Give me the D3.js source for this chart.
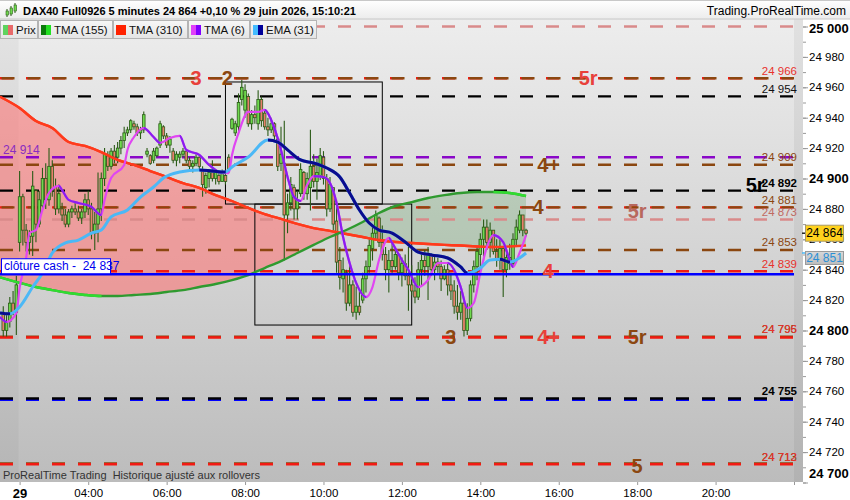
<!DOCTYPE html>
<html><head><meta charset="utf-8">
<script src="https://cdn.jsdelivr.net/npm/d3@7"></script>
<style>
body{margin:0;background:#fff;}
svg{display:block;font-family:"Liberation Sans",Arial,sans-serif;}
</style>
</head><body>
<svg id="c" width="850" height="500"></svg>
<script>
// ---------------- DATA ----------------
const titleText = "DAX40 Full0926 5 minutes 24 864 +0,10 % 29 juin 2026, 15:10:21";
const siteText = "Trading.ProRealTime.com";
const footText = "ProRealTime Trading\u00a0 Historique ajusté aux rollovers";
const legendNames = ["Prix", "TMA (155)", "TMA (310)", "TMA (6)", "EMA (31)"];

const barStart = 1 + 50/60;   // first bar 01:50
const barMinutes = 5;
const open  = [24812,24800,24806,24818,24812,24858,24888,24866,24858,24862,24892,24870,24882,24900,24886,24908,24894,24880,24880,24876,24870,24878,24880,24878,24874,24878,24886,24880,24864,24870,24880,24900,24915,24908,24918,24914,24920,24925,24930,24932,24936,24934,24930,24932,24916,24915,24912,24915,24922,24934,24928,24922,24918,24912,24914,24916,24918,24912,24908,24910,24914,24906,24894,24900,24904,24900,24902,24898,24902,24914,24933,24930,24934,24952,24945,24954,24936,24942,24936,24952,24943,24934,24932,24936,24926,24910,24910,24876,24884,24894,24880,24890,24904,24890,24894,24908,24898,24902,24914,24900,24880,24894,24872,24846,24834,24838,24818,24830,24812,24816,24820,24834,24842,24854,24864,24874,24858,24850,24840,24846,24842,24850,24838,24844,24836,24830,24826,24822,24840,24846,24842,24850,24840,24845,24842,24834,24840,24830,24826,24816,24812,24818,24800,24808,24830,24842,24850,24860,24868,24858,24866,24852,24846,24854,24840,24848,24844,24860,24866,24876,24866];
const high  = [24816,24812,24822,24826,24836,24905,24890,24870,24866,24905,24893,24892,24907,24910,24920,24912,24900,24896,24884,24880,24880,24882,24884,24882,24880,24890,24892,24884,24878,24904,24904,24920,24918,24920,24922,24924,24928,24934,24934,24939,24938,24936,24934,24944,24920,24916,24920,24921,24938,24935,24930,24928,24920,24918,24918,24920,24918,24914,24912,24916,24915,24908,24904,24906,24912,24906,24904,24906,24904,24916,24940,24938,24956,24965,24962,24956,24945,24948,24958,24954,24945,24940,24940,24937,24927,24934,24938,24890,24901,24896,24892,24910,24905,24904,24932,24916,24913,24920,24918,24903,24901,24894,24886,24855,24848,24840,24843,24833,24829,24826,24838,24846,24860,24868,24879,24875,24869,24855,24853,24857,24855,24851,24848,24850,24855,24843,24835,24845,24851,24853,24855,24851,24849,24848,24846,24843,24844,24838,24833,24830,24826,24820,24818,24833,24846,24855,24864,24873,24873,24871,24866,24860,24860,24855,24855,24857,24864,24873,24879,24876,24867];
const low   = [24796,24796,24802,24810,24797,24852,24856,24852,24850,24849,24858,24868,24879,24880,24882,24888,24876,24877,24872,24868,24868,24874,24876,24872,24870,24874,24876,24860,24853,24858,24872,24895,24905,24906,24910,24910,24916,24920,24928,24930,24932,24928,24926,24930,24914,24909,24910,24914,24920,24926,24920,24917,24910,24908,24910,24914,24910,24906,24904,24908,24905,24888,24890,24894,24898,24896,24896,24898,24896,24904,24932,24928,24930,24948,24940,24934,24932,24936,24932,24934,24932,24928,24930,24925,24905,24905,24846,24864,24879,24873,24873,24888,24886,24886,24879,24894,24886,24899,24896,24875,24878,24866,24838,24827,24825,24813,24816,24809,24807,24810,24818,24825,24838,24846,24860,24855,24846,24833,24825,24838,24840,24833,24829,24833,24813,24823,24818,24820,24829,24836,24820,24836,24833,24838,24826,24833,24823,24820,24811,24807,24807,24796,24797,24806,24825,24833,24838,24846,24853,24848,24850,24842,24840,24822,24835,24840,24842,24855,24864,24862,24862];
const close = [24800,24806,24818,24812,24830,24888,24866,24858,24862,24895,24870,24886,24900,24886,24908,24892,24880,24890,24876,24870,24878,24880,24878,24874,24878,24886,24880,24864,24870,24880,24900,24916,24908,24918,24914,24920,24925,24930,24932,24938,24934,24930,24932,24942,24918,24910,24918,24920,24936,24928,24922,24926,24912,24916,24916,24918,24912,24908,24910,24914,24908,24896,24902,24904,24900,24904,24898,24904,24898,24906,24939,24936,24950,24960,24958,24936,24942,24940,24952,24938,24934,24932,24936,24928,24908,24916,24876,24884,24896,24880,24886,24906,24890,24900,24908,24898,24904,24915,24900,24880,24896,24870,24845,24835,24840,24818,24830,24812,24816,24812,24834,24842,24856,24864,24876,24858,24850,24840,24846,24842,24850,24838,24844,24836,24830,24826,24822,24840,24846,24842,24850,24840,24845,24842,24834,24840,24830,24826,24816,24812,24818,24800,24808,24830,24842,24852,24860,24868,24858,24866,24852,24846,24854,24840,24848,24844,24860,24868,24876,24866,24864];

// moving averages (bar index -> value)
const tmaSlowIdx = [-1,5,10,15,20,25,30,35,40,45,50,55,60,65,70,75,80,85,90,95,100,105,110,115,120,125,130,135,140,145,150,155,160];
const tma310 = [24953.8,24946.4,24937.8,24933.2,24924.0,24921.4,24917.4,24912.2,24908.9,24904.9,24901.0,24897.0,24893.8,24889.1,24885.2,24880.6,24876.6,24873.4,24870.1,24867.4,24865.5,24863.5,24861.5,24859.5,24858.2,24857.6,24856.9,24856.3,24855.9,24855.3,24854.9,24855.3,24855.9];
const tma155 = [24835.0,24831.3,24828.6,24826.6,24824.7,24823.4,24822.7,24822.7,24823.4,24824.0,24825.3,24826.6,24828.6,24830.6,24833.2,24836.5,24841.1,24845.7,24851.0,24856.3,24861.5,24866.1,24871.4,24877.3,24881.9,24884.5,24887.2,24889.1,24890.5,24891.1,24891.1,24890.5,24888.5];
const tma6Idx = [-1,1,4,5,7,8,10,12,14,17,18,20,23,27,30,31,33,37,38,40,43,46,48,51,54,56,60,63,67,69,70,72,75,78,80,82,85,87,89,91,93,95,98,100,102,104,106,108,111,113,115,118,119,122,124,127,130,133,136,138,140,142,144,146,148,150,153,155,156,158,160];
const tma6 = [24808.9,24805.6,24811.5,24828.0,24847.7,24864.1,24866.1,24879.3,24890.5,24895.1,24892.4,24885.9,24883.9,24881.3,24876.0,24885.9,24900.3,24908.9,24918.8,24927.3,24933.2,24927.3,24923.4,24926.6,24928.0,24918.8,24915.5,24908.9,24903.6,24903.6,24915.5,24929.9,24943.8,24943.8,24945.1,24938.5,24918.8,24901.0,24887.8,24885.2,24895.7,24901.6,24901.0,24897.0,24883.9,24861.5,24844.4,24831.3,24822.0,24828.6,24846.4,24860.9,24857.6,24846.4,24839.8,24828.6,24833.2,24844.4,24844.4,24839.8,24828.6,24814.8,24818.1,24837.8,24854.9,24862.8,24858.2,24846.4,24841.8,24851.0,24862.8];
const emaIdx = [-1,2,5,9,12,15,19,23,27,30,33,38,42,46,49,54,60,64,68,70,75,81,84,87,91,95,99,103,106,109,112,115,119,123,127,131,136,140,142,146,149,152,155,158,160];
const ema31 = [24811.6,24811.0,24815.5,24828.6,24837.8,24851.0,24857.6,24859.5,24864.1,24866.1,24874.7,24879.3,24887.8,24894.4,24900.3,24904.3,24905.6,24904.9,24904.3,24907.6,24914.1,24925.3,24924.0,24918.8,24912.2,24910.2,24906.9,24901.0,24890.5,24879.3,24870.7,24866.1,24864.1,24858.2,24851.6,24849.7,24847.7,24841.8,24837.8,24841.1,24846.4,24846.8,24845.1,24847.7,24851.0];

// horizontal levels
const levelValues = [25000,24966,24966,24954,24914,24909,24892,24881,24881,24873,24853,24839,24796,24795.4,24754.4,24755.3,24712.6,24712];
const levelKinds  = ["pink","red","brown","black","purple","brown","black","red","brown","pink","brown","red","brown","red","blue","black","brown","red"];
const cashValue = 24837;
const cashText = "clôture cash - \u00a024 837";
const leftLabelText = "24 914";
const leftLabelValue = 24914;

const rightLabelText  = ["24 966","24 954","24 909","24 892","24 881","24 873","24 853","24 839","24 795","24 796","24 755","24 713","24 712"];
const rightLabelValue = [24966,24954,24909,24892,24881,24873,24853,24839,24796,24796,24755,24712,24712];
const rightLabelKind  = ["red","black","brown","blackB","brown","pinkT","brown","red","brown","red","blackB","brown","red"];

// big annotations (time in hours, value)
const annText  = ["3","2","5r","4+","5r","4","5r","4","3","4+","5r","5"];
const annTime  = [6.75,7.55,16.75,15.74,21.01,15.47,18.0,15.73,13.25,15.74,18.0,18.0];
const annValue = [24966,24966,24966,24909,24895.7,24881,24878.6,24839,24796,24796,24796,24711];
const annKind  = ["red","brown","red","brown","black","brown","pinkT","red","brown","red","brown","brown"];

// rectangles
const boxStart = [7.5, 8.25], boxEnd = [11.5, 12.25];
const boxTop = [24963.5, 24883.2], boxBottom = [24883.2, 24803.6];

// axes
const xTickTimes = [2.25,4,6,8,10,12,14,16,18,20,22];
const xTickLabels = ["29","04:00","06:00","08:00","10:00","12:00","14:00","16:00","18:00","20:00",""];
const lastPrice = 24864;

// ---------------- STYLES ----------------
const C = {
  red:"#f21a12", brown:"#8b4710", black:"#000000", purple:"#8a08c8", pink:"#d98a8a", blue:"#0000ff",
  pinkT:"#c06a62", blackB:"#000000"
};
const labelC = {red:"#e8322c", brown:"#8b4710", black:"#111", blackB:"#000", pinkT:"#c06a62"};

// ---------------- DRAW ----------------
const svg = d3.select("#c");
const defs = svg.append("defs");
const plotR = 794, plotT = 19, plotB = 482;
const x = d3.scaleLinear().domain([1.75, 22]).range([0, 794]);
const y = d3.scaleLinear().domain([24700, 25000]).range([482.5, 26.5]);
const bt = i => barStart + i*barMinutes/60;
const fmt = v => d3.format(",")(v).replace(",", " ");

function vgrad(id, c1, c2){
  const g = defs.append("linearGradient").attr("id",id).attr("x1",0).attr("y1",0).attr("x2",0).attr("y2",1);
  g.append("stop").attr("offset","0%").attr("stop-color",c1);
  g.append("stop").attr("offset","100%").attr("stop-color",c2);
}
vgrad("bg","#ededed","#bcbcbc");
vgrad("tb","#ffffff","#ececec");
vgrad("lg","#f7f7f7","#e4e4e4");
vgrad("tag","#d8d8d8","#bdbdbd");

defs.append("clipPath").attr("id","plotClip").append("rect")
  .attr("x",0).attr("y",plotT).attr("width",plotR).attr("height",plotB-plotT);

// background
svg.append("rect").attr("width",850).attr("height",500).attr("fill","#fff");
svg.append("rect").attr("x",0).attr("y",plotT).attr("width",plotR).attr("height",plotB-plotT).attr("fill","url(#bg)");
svg.append("rect").attr("x",plotR).attr("y",plotT).attr("width",9).attr("height",plotB-plotT).attr("fill","url(#bg)");
svg.append("rect").attr("x",plotR).attr("y",plotT).attr("width",9).attr("height",plotB-plotT).attr("fill","#000").attr("opacity",0.05);
svg.append("rect").attr("x",0).attr("y",plotT).attr("width",x(2.25)-1).attr("height",plotB-plotT).attr("fill","#000").attr("opacity",0.035);

const plot = svg.append("g").attr("clip-path","url(#plotClip)");

// cloud fill between TMA155 and TMA310
const slowPts = tmaSlowIdx.map((b,k)=>({x:x(bt(b)), r:y(tma310[k]), g:y(tma155[k])}));
const area = d3.area().x(d=>d.x).y0(d=>d.g).y1(d=>d.r).curve(d3.curveMonotoneX);
const aboveG = d3.area().x(d=>d.x).y0(0).y1(d=>d.g).curve(d3.curveMonotoneX);
const belowG = d3.area().x(d=>d.x).y0(500).y1(d=>d.g).curve(d3.curveMonotoneX);
defs.append("clipPath").attr("id","cAbove").append("path").attr("d",aboveG(slowPts));
defs.append("clipPath").attr("id","cBelow").append("path").attr("d",belowG(slowPts));
plot.append("path").attr("d",area(slowPts)).attr("fill","rgb(255,110,110)").attr("fill-opacity",0.55).attr("clip-path","url(#cAbove)");
plot.append("path").attr("d",area(slowPts)).attr("fill","rgb(50,140,50)").attr("fill-opacity",0.2).attr("clip-path","url(#cBelow)");

// levels
const lv = plot.append("g");
levelValues.forEach((v,i)=>{
  const k = levelKinds[i];
  const shifted = (k==="brown" && (v===24966 || v===24881));
  lv.append("line").attr("x1",0).attr("x2",plotR).attr("y1",y(v)).attr("y2",y(v))
    .attr("stroke",C[k]).attr("stroke-width",2.4)
    .attr("stroke-dasharray","13,13").attr("stroke-dashoffset", shifted ? -1.5 : 0);
});

// rectangles
boxStart.forEach((s,i)=>{
  plot.append("rect").attr("x",x(s)).attr("y",y(boxTop[i]))
    .attr("width",x(boxEnd[i])-x(s)).attr("height",y(boxBottom[i])-y(boxTop[i]))
    .attr("fill","none").attr("stroke","#000").attr("stroke-width",1);
});

// candles
const bars = d3.range(open.length);
const cg = plot.append("g");
cg.selectAll("line").data(bars).join("line")
  .attr("x1",i=>x(bt(i))).attr("x2",i=>x(bt(i)))
  .attr("y1",i=>y(high[i])).attr("y2",i=>y(low[i]))
  .attr("stroke","#2b5b17").attr("stroke-width",1.1);
cg.selectAll("rect").data(bars).join("rect")
  .attr("x",i=>x(bt(i))-1.3).attr("width",2.6)
  .attr("y",i=>y(Math.max(open[i],close[i])))
  .attr("height",i=>Math.max(1,y(Math.min(open[i],close[i]))-y(Math.max(open[i],close[i]))))
  .attr("fill",i=>close[i]>=open[i]?"#6fda4e":"#e8806c")
  .attr("stroke","#2b5b17").attr("stroke-width",0.8);

// coloured line helper: base colour rising, other colour falling
let clipN = 0;
function dualLine(idx, vals, upColor, downColor, width){
  const pts = idx.map((b,k)=>[x(bt(b)), y(vals[k])]);
  const line = d3.line().curve(d3.curveMonotoneX);
  const id = "fall"+(clipN++);
  const cp = defs.append("clipPath").attr("id",id);
  for(let k=0;k<vals.length-1;k++){
    if(vals[k+1] < vals[k]){
      cp.append("rect").attr("x",pts[k][0]).attr("y",0).attr("width",pts[k+1][0]-pts[k][0]+0.3).attr("height",500);
    }
  }
  plot.append("path").attr("d",line(pts)).attr("fill","none").attr("stroke",upColor).attr("stroke-width",width).attr("stroke-linejoin","round");
  plot.append("path").attr("d",line(pts)).attr("fill","none").attr("stroke",downColor).attr("stroke-width",width).attr("stroke-linejoin","round").attr("clip-path","url(#"+id+")");
}
dualLine(tmaSlowIdx, tma310, "#ff3a1c", "#ff3a1c", 2.4);
dualLine(tmaSlowIdx, tma155, "#2f9a2f", "#30dc30", 2.4);
dualLine(tma6Idx, tma6, "#e046f2", "#8a1ef0", 2.2);
dualLine(emaIdx, ema31, "#4bb8f6", "#0b0b8e", 3);

// cash close line
plot.append("line").attr("x1",0).attr("x2",plotR).attr("y1",y(cashValue)).attr("y2",y(cashValue))
  .attr("stroke","#0000ff").attr("stroke-width",2.4);

// big annotations
annText.forEach((t,i)=>{
  svg.append("text").attr("x",x(annTime[i])).attr("y",y(annValue[i]))
    .attr("text-anchor","middle").attr("dominant-baseline","central")
    .attr("font-size",20).attr("font-weight","bold")
    .attr("fill", annKind[i]==="red" ? "#e8403a" : annKind[i]==="brown" ? "#8b4710" : annKind[i]==="pinkT" ? "#b8685e" : "#000")
    .text(t);
});

// right level labels
rightLabelText.forEach((t,i)=>{
  const k = rightLabelKind[i];
  svg.append("text").attr("x",797).attr("y",y(rightLabelValue[i])-3.5)
    .attr("text-anchor","end").attr("font-size",11.5)
    .attr("font-weight", k==="blackB" ? "bold" : "normal")
    .attr("fill",labelC[k]).text(t);
});

// left labels
svg.append("text").attr("x",3).attr("y",y(leftLabelValue)-3).attr("font-size",12).attr("fill","#8a2cc0").text(leftLabelText);
const cy = y(cashValue);
svg.append("rect").attr("x",1.5).attr("y",cy-15.5).attr("width",109).attr("height",15).attr("fill","#fff").attr("stroke","#0000ff").attr("stroke-width",1);
svg.append("text").attr("x",4).attr("y",cy-4).attr("font-size",12).attr("fill","#0000ee").text(cashText);

// footer text
svg.append("text").attr("x",3).attr("y",479).attr("font-size",11).attr("fill","#333").text(footText);

// Y axis
const yAxisG = svg.append("g").attr("transform","translate(803,0)");
yAxisG.call(d3.axisRight(y).tickValues(d3.range(24700,25001,10)).tickSize(3).tickFormat(""));
yAxisG.call(g=>g.select(".domain").remove());
yAxisG.selectAll("line").attr("stroke","#999");
const yMajor = svg.append("g").attr("transform","translate(803,0)")
  .call(d3.axisRight(y).tickValues(d3.range(24700,25001,20)).tickSize(5).tickPadding(1).tickFormat(fmt));
yMajor.select(".domain").remove();
yMajor.selectAll("line").attr("stroke","#999");
yMajor.selectAll("text").attr("font-family","Liberation Sans, Arial, sans-serif")
  .attr("font-size",d=>d%100===0?13:11.5).attr("font-weight",d=>d%100===0?"bold":"normal").attr("fill","#000")
  .attr("dy",d=>d===24700?"-0.35em":d===25000?"0.45em":"0.32em");

// price tags
const ly = y(lastPrice);
svg.append("line").attr("x1",802).attr("x2",806).attr("y1",ly).attr("y2",ly).attr("stroke","#222").attr("stroke-width",1.5);
svg.append("rect").attr("x",805.5).attr("y",ly-8).attr("width",38).attr("height",16).attr("fill","#ffd21e").attr("stroke","#a89a6a");
svg.append("text").attr("x",824.5).attr("y",ly+4).attr("text-anchor","middle").attr("font-size",12).attr("fill","#000")
  .text(fmt(lastPrice));
const lastEma = ema31[ema31.length-1];
const ey = y(lastEma);
svg.append("line").attr("x1",802).attr("x2",806).attr("y1",ey).attr("y2",ey).attr("stroke","#4bb8f6").attr("stroke-width",1.5);
svg.append("rect").attr("x",805.5).attr("y",ey-1.5).attr("width",38).attr("height",13).attr("fill","url(#tag)").attr("stroke","#999");
svg.append("text").attr("x",824.5).attr("y",ey+9).attr("text-anchor","middle").attr("font-size",12).attr("fill","#2a90d6")
  .text(fmt(Math.round(lastEma)));

// X axis
const xAxisG = svg.append("g").attr("transform","translate(0,"+plotB+")")
  .call(d3.axisBottom(x).tickValues(xTickTimes).tickSize(3).tickPadding(4).tickFormat((d,i)=>xTickLabels[i]));
xAxisG.select(".domain").remove();
xAxisG.selectAll("line").attr("stroke","#999");
xAxisG.selectAll("text").attr("font-family","Liberation Sans, Arial, sans-serif").attr("fill","#000")
  .attr("font-weight",(d,i)=>i===0?"bold":"normal").attr("font-size",(d,i)=>i===0?13:11.5);

// title bar
svg.append("rect").attr("x",0).attr("y",0).attr("width",850).attr("height",19).attr("fill","url(#tb)");
svg.append("line").attr("x1",0).attr("x2",850).attr("y1",0.5).attr("y2",0.5).attr("stroke","#c8c8c8");
svg.append("line").attr("x1",0).attr("x2",850).attr("y1",19).attr("y2",19).attr("stroke","#c8c8c8");
// small candle icon
[[6,9,13],[10,6,12],[14,3,9]].forEach(c=>{
  svg.append("line").attr("x1",c[0]+1).attr("x2",c[0]+1).attr("y1",c[1]).attr("y2",c[2]+4).attr("stroke","#2b5b17");
  svg.append("rect").attr("x",c[0]).attr("y",c[1]+2).attr("width",2.5).attr("height",c[2]-c[1]).attr("fill","#6fda4e").attr("stroke","#2b5b17").attr("stroke-width",0.6);
});
svg.append("text").attr("x",23).attr("y",15).attr("font-size",11).attr("font-weight","bold").attr("fill","#000").text(titleText);
svg.append("text").attr("x",846).attr("y",15).attr("text-anchor","end").attr("font-size",12).attr("fill","#000").text(siteText);

// legend
const legX = [0,38,113,188,250,317];
const sw = [["#5fd35f","#e86a6a"],["#0b7a0b","#22e022"],["#ff2200","#ff2200"],["#e040f8","#8000ff"],["#44bbff","#000099"]];
legendNames.forEach((n,i)=>{
  const x0 = legX[i], w = legX[i+1]-legX[i];
  svg.append("rect").attr("x",x0+0.5).attr("y",20.5).attr("width",w-1).attr("height",18).attr("fill","url(#lg)").attr("stroke","#b4b4b4");
  svg.append("rect").attr("x",x0+3).attr("y",25).attr("width",5).attr("height",10).attr("fill",sw[i][0]);
  svg.append("rect").attr("x",x0+8).attr("y",25).attr("width",5).attr("height",10).attr("fill",sw[i][1]);
  svg.append("text").attr("x",x0+16).attr("y",34).attr("font-size",11.5).attr("fill","#111").text(n);
});
</script>
</body></html>
